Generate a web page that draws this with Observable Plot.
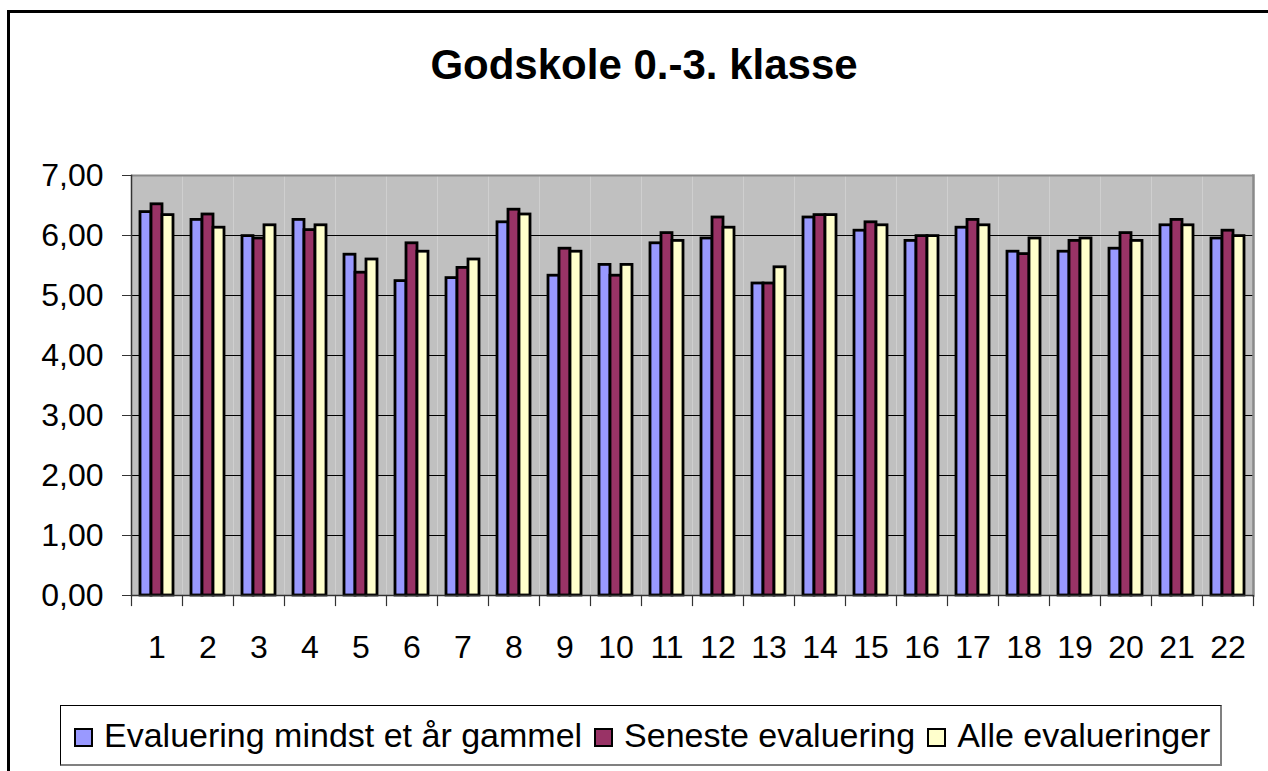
<!DOCTYPE html>
<html>
<head>
<meta charset="utf-8">
<script src="https://cdn.jsdelivr.net/npm/d3@7"></script>
<script src="https://cdn.jsdelivr.net/npm/@observablehq/plot@0.6"></script>
<style>
  html, body { margin: 0; padding: 0; background: #fff; width: 1268px; height: 771px; overflow: hidden; }
  body { font-family: "Liberation Sans", Arial, sans-serif; position: relative; }
  #outer { position: absolute; left: 7px; top: 10px; width: 1300px; height: 900px; border: 3px solid #000; box-sizing: border-box; }
  #title { position: absolute; left: 144px; top: 44px; width: 1000px; text-align: center; font-size: 42px; line-height: 1; font-weight: bold; color: #000; }
  #chart { position: absolute; left: 0; top: 140px; }
  #legend { position: absolute; left: 60px; top: 705px; width: 1162px; height: 61px; box-sizing: border-box; border: 1px solid #000; border-bottom: 2px solid #808080; border-right: 2px solid #808080; background: #fff; display: flex; align-items: center; padding-left: 13px; font-size: 34px; color: #000; white-space: nowrap; }
  .item { display: flex; align-items: center; margin-right: 12px; }
  .sw { width: 19px; height: 19px; box-sizing: border-box; border: 2px solid #000; margin-right: 11px; margin-top: 4px; }
</style>
</head>
<body>
<div id="outer"></div>
<div id="title"></div>
<div id="chart"></div>
<div id="legend"></div>
<script>
const titleText = "Godskole 0.-3. klasse";
const categories = ["1","2","3","4","5","6","7","8","9","10","11","12","13","14","15","16","17","18","19","20","21","22"];
const seriesNames = ["Evaluering mindst et år gammel", "Seneste evaluering", "Alle evalueringer"];
const seriesColors = ["#9999FF", "#993366", "#FFFFCC"];
const evalOld = [6.39,6.26,5.99,6.26,5.68,5.24,5.29,6.22,5.33,5.51,5.87,5.95,5.20,6.30,6.08,5.91,6.13,5.73,5.73,5.78,6.17,5.95];
const evalLatest = [6.52,6.35,5.95,6.09,5.38,5.87,5.46,6.43,5.78,5.33,6.04,6.30,5.20,6.34,6.22,5.99,6.26,5.69,5.91,6.04,6.26,6.08];
const evalAll = [6.34,6.13,6.17,6.17,5.60,5.73,5.60,6.35,5.73,5.51,5.91,6.13,5.47,6.34,6.17,5.99,6.17,5.95,5.95,5.91,6.17,5.99];
const yTicks = [0,1,2,3,4,5,6,7];

const seriesValues = [evalOld, evalLatest, evalAll];
const data = [];
categories.forEach((c, i) => {
  seriesNames.forEach((s, j) => data.push({cat: c, series: s, value: seriesValues[j][i]}));
});

document.getElementById("title").textContent = titleText;

const W = 1268, H = 535, mT = 35, mB = 80, mL = 131, mR = 15;
const plotH = H - mT - mB;

const chart = Plot.plot({
  width: W, height: H,
  marginTop: mT, marginBottom: mB, marginLeft: mL, marginRight: mR,
  style: {fontFamily: "'Liberation Sans', Arial, sans-serif", fontSize: "32px", color: "#000", background: "transparent", overflow: "visible"},
  fx: {domain: categories, padding: 0, label: null, axis: null},
  x: {domain: seriesNames, paddingInner: 0, paddingOuter: 0.72, axis: null},
  y: {domain: [0, 7], label: null, axis: null},
  color: {domain: seriesNames, range: seriesColors},
  marks: [
    Plot.frame({fill: "#C0C0C0", stroke: "none"}),
    Plot.ruleY(yTicks.filter(t => t > 0 && t < 7), {stroke: "#000", strokeWidth: 1.2}),
    Plot.barY(data, {fx: "cat", x: "series", y: "value", fill: "series", stroke: "#000", strokeWidth: 2.8}),
    Plot.ruleY([7], {stroke: "#8a8a8a", strokeWidth: 2}),
    Plot.frame({anchor: "right", stroke: "#8a8a8a", strokeWidth: 2.5, facetAnchor: "right"}),
    Plot.frame({anchor: "left", stroke: "#333", strokeWidth: 1.5, facetAnchor: "left"}),
    Plot.ruleY([0], {stroke: "#333", strokeWidth: 1.5}),
    Plot.frame({anchor: "left", insetTop: plotH, insetBottom: -10, stroke: "#333", strokeWidth: 1.2}),
    Plot.frame({anchor: "right", insetTop: plotH, insetBottom: -10, stroke: "#333", strokeWidth: 1.2, facetAnchor: "right"}),
    Plot.axisY({ticks: yTicks, tickFormat: d => d.toFixed(2).replace(".", ","), tickSize: 9, tickPadding: 19, fontSize: 32, stroke: "#333"}),
    Plot.axisFx({anchor: "bottom", tickSize: 0, tickPadding: 40, fontSize: 32, label: null})
  ]
});
document.getElementById("chart").appendChild(chart);

const legend = document.getElementById("legend");
seriesNames.forEach((s, j) => {
  const item = document.createElement("div");
  item.className = "item";
  const sw = document.createElement("div");
  sw.className = "sw";
  sw.style.background = seriesColors[j];
  const label = document.createElement("span");
  label.textContent = s;
  item.appendChild(sw);
  item.appendChild(label);
  legend.appendChild(item);
});
</script>
</body>
</html>
